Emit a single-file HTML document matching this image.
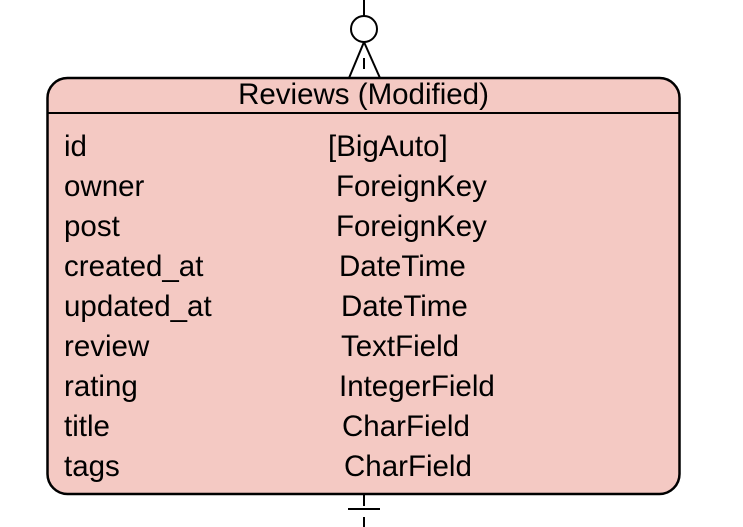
<!DOCTYPE html>
<html><head><style>
body{margin:0;width:743px;height:527px;background:#fff;overflow:hidden;position:relative;font-family:"Liberation Sans",Arial,sans-serif;}
svg{position:absolute;left:0;top:0}
.t{position:absolute;font-size:29.5px;line-height:30px;color:#000;white-space:nowrap}
</style></head><body>
<svg width="743" height="527">
<rect x="47.5" y="78" width="632" height="416" rx="20" ry="20" fill="#f4c9c3" stroke="#000" stroke-width="2.5"/>
<line x1="47" y1="113" x2="680" y2="113" stroke="#000" stroke-width="2"/>
<line x1="364" y1="0" x2="364" y2="16" stroke="#000" stroke-width="2"/>
<circle cx="364" cy="29" r="13" fill="#fff" stroke="#000" stroke-width="2"/>
<line x1="364" y1="42" x2="349" y2="78" stroke="#000" stroke-width="2"/>
<line x1="364" y1="42" x2="380" y2="78" stroke="#000" stroke-width="2"/>
<line x1="364" y1="58" x2="364" y2="69" stroke="#000" stroke-width="2"/>
<line x1="364" y1="494" x2="364" y2="506" stroke="#000" stroke-width="2"/>
<line x1="348" y1="509" x2="380" y2="509" stroke="#000" stroke-width="2"/>
<line x1="364" y1="517" x2="364" y2="527" stroke="#000" stroke-width="2"/>
</svg>
<div class="t" style="left:0;width:727px;text-align:center;top:80px">Reviews (Modified)</div>
<div class="t" style="left:64px;top:132px">id</div><div class="t" style="left:328px;top:132px">[BigAuto]</div>
<div class="t" style="left:64px;top:172px">owner</div><div class="t" style="left:336px;top:172px">ForeignKey</div>
<div class="t" style="left:64px;top:212px">post</div><div class="t" style="left:336px;top:212px">ForeignKey</div>
<div class="t" style="left:64px;top:252px">created_at</div><div class="t" style="left:339px;top:252px">DateTime</div>
<div class="t" style="left:64px;top:292px">updated_at</div><div class="t" style="left:341px;top:292px">DateTime</div>
<div class="t" style="left:64px;top:332px">review</div><div class="t" style="left:341px;top:332px">TextField</div>
<div class="t" style="left:64px;top:372px">rating</div><div class="t" style="left:339px;top:372px">IntegerField</div>
<div class="t" style="left:64px;top:412px">title</div><div class="t" style="left:342px;top:412px">CharField</div>
<div class="t" style="left:64px;top:452px">tags</div><div class="t" style="left:344px;top:452px">CharField</div>
</body></html>
